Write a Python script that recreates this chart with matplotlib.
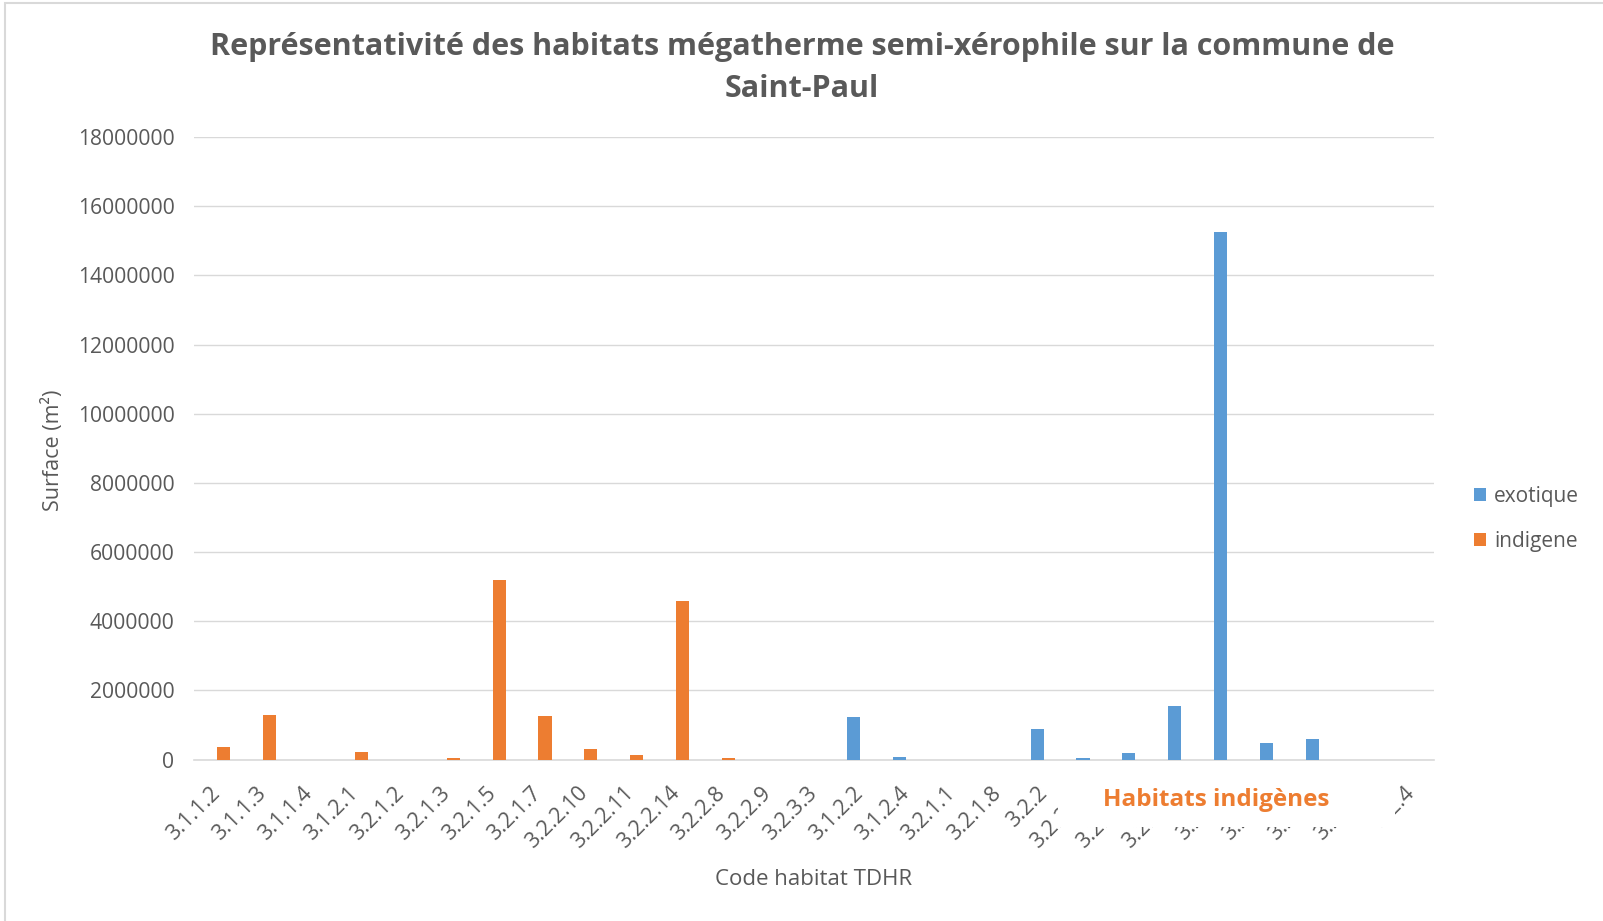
import matplotlib
matplotlib.use("Agg")
import matplotlib.pyplot as plt
import numpy as np
from matplotlib.patches import Rectangle

categories = ["3.1.1.2", "3.1.1.3", "3.1.1.4", "3.1.2.1", "3.2.1.2", "3.2.1.3", "3.2.1.5",
              "3.2.1.7", "3.2.2.10", "3.2.2.11", "3.2.2.14", "3.2.2.8", "3.2.2.9", "3.2.3.3",
              "3.1.2.2", "3.1.2.4", "3.2.1.1", "3.2.1.8", "3.2.2", "3.2.2.10", "3.2.2.11",
              "3.2.2.14", "3.2.2.8", "3.2.2.9", "3.2.3.3", "3.2.3.4", "3.2.4"]
exotique = [0, 0, 0, 0, 0, 0, 0, 0, 0, 0, 0, 0, 0, 0,
            1230000, 75000, 0, 0, 880000, 45000, 180000, 1550000, 15250000, 490000, 590000, 0, 0]
indigene = [350000, 1300000, 0, 210000, 0, 50000, 5190000, 1260000, 315000, 120000, 4580000, 45000, 0, 0,
            0, 0, 0, 0, 0, 0, 0, 0, 0, 0, 0, 0, 0]
yticks = [0, 2000000, 4000000, 6000000, 8000000, 10000000, 12000000, 14000000, 16000000, 18000000]
series_names = ["exotique", "indigene"]

BLUE = "#5B9BD5"
ORANGE = "#ED7D31"
GRAY = "#595959"
GRID = "#D9D9D9"
FONT = "Open Sans"

W, H = 1603, 921
fig = plt.figure(figsize=(W / 100, H / 100), dpi=100)
ax = fig.add_axes([194 / W, 1 - 759.5 / H, (1434 - 194) / W, (759.5 - 137) / H])

x = np.arange(len(categories))
bw = 1 / 3.5
ax.bar(x - bw / 2, exotique, width=bw, color=BLUE, label=series_names[0], zorder=3)
ax.bar(x + bw / 2, indigene, width=bw, color=ORANGE, label=series_names[1], zorder=3)

ax.set_xlim(-0.5, len(categories) - 0.5)
ax.set_ylim(0, 18000000)
ax.set_yticks(yticks)
ax.set_yticklabels([str(v) for v in yticks], fontsize=15.2, color=GRAY, family=FONT)
ax.set_xticks(x)
ax.set_xticklabels(categories, rotation=45, ha="right", va="center", rotation_mode="anchor",
                   fontsize=15.5, color=GRAY, family=FONT)
ax.tick_params(axis="both", length=0)
ax.tick_params(axis="y", pad=14)
ax.tick_params(axis="x", pad=22)
ax.grid(axis="y", color=GRID, linewidth=1.0, zorder=0)
for s in ["top", "right", "left"]:
    ax.spines[s].set_visible(False)
ax.spines["bottom"].set_color(GRID)
ax.spines["bottom"].set_linewidth(1.2)
ax.set_axisbelow(True)

fig.text(53 / W, 1 - 450 / H, "Surface (m²)", rotation=90, ha="center", va="center",
         fontsize=15.5, color=GRAY, family=FONT)
fig.text(814 / W, 1 - 879 / H, "Code habitat TDHR", ha="center", va="center",
         fontsize=16, color=GRAY, family=FONT)

fig.text(802 / W, 1 - 47 / H, "Représentativité des habitats mégatherme semi-xérophile sur la commune de",
         ha="center", va="center", fontsize=22, fontweight="bold", color=GRAY, family=FONT)
fig.text(802 / W, 1 - 89 / H, "Saint-Paul",
         ha="center", va="center", fontsize=22, fontweight="bold", color=GRAY, family=FONT)

leg = fig.legend(loc="center left", bbox_to_anchor=(1466 / W, 1 - 519 / H), frameon=False,
                 prop={"family": FONT, "size": 15}, handlelength=0.55, handleheight=0.55,
                 handletextpad=0.4, labelspacing=1.15, borderaxespad=0)
for t in leg.get_texts():
    t.set_color(GRAY)

# white box covering part of the x labels, with overlay text
fig.patches.append(Rectangle((1058 / W, 1 - 827 / H), 337 / W, 55 / H, transform=fig.transFigure,
                             facecolor="white", edgecolor="none", zorder=10))
fig.text(1216 / W, 1 - 800 / H, "Habitats indigènes", ha="center", va="center",
         fontsize=17.5, fontweight="bold", color=ORANGE, family=FONT, zorder=11)

# chart border
fig.patches.append(Rectangle((5 / W, -0.01), 1.1, 1 - 3 / H + 0.01, transform=fig.transFigure,
                             facecolor="none", edgecolor=GRID, linewidth=1.5, zorder=0))

fig.savefig("out.png", dpi=100)
